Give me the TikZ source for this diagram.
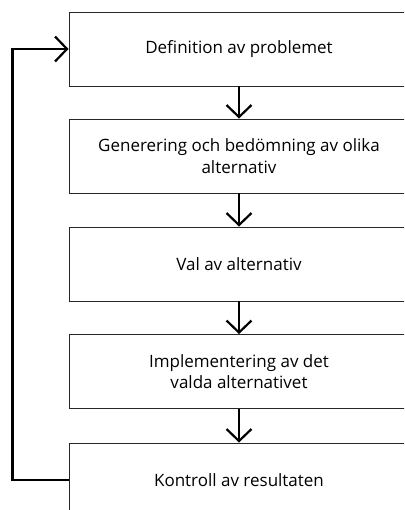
\documentclass[tikz,border=0pt]{standalone}
\usepackage{fontspec}
\setmainfont{Open Sans}
\usetikzlibrary{arrows.meta}
\begin{document}
\begin{tikzpicture}[x=1pt,y=-1pt,
  stage/.style={draw=black!85, line width=0.9pt, minimum width=340pt,
    minimum height=74pt, inner sep=0pt, align=center,
    font=\fontsize{17}{21.7}\selectfont},
  flow/.style={line width=2.4pt,
    -{Straight Barb[length=12pt,width=25pt,line width=2.2pt]}}]
  \useasboundingbox (0,0) rectangle (404,510);
  \clip (0,0) rectangle (404,510);
  % process stages, top to bottom
  \node[stage] (def)  at (239,49)    {Definition av problemet};
  \node[stage] (gen)  at (239,156)   {Generering och bedömning av olika\\alternativ};
  \node[stage] (val)  at (239,264)   {Val av alternativ};
  \node[stage] (impl) at (239,371.5) {Implementering av det\\valda alternativet};
  \node[stage] (kon)  at (239,480)   {Kontroll av resultaten};
  % forward steps
  \draw[flow] (def)  -- (gen);
  \draw[flow] (gen)  -- (val);
  \draw[flow] (val)  -- (impl);
  \draw[flow] (impl) -- (kon);
  % feedback loop back to the first stage
  \draw[flow] (kon.west) -- ++(-56,0) |- (def.west);
\end{tikzpicture}
\end{document}
